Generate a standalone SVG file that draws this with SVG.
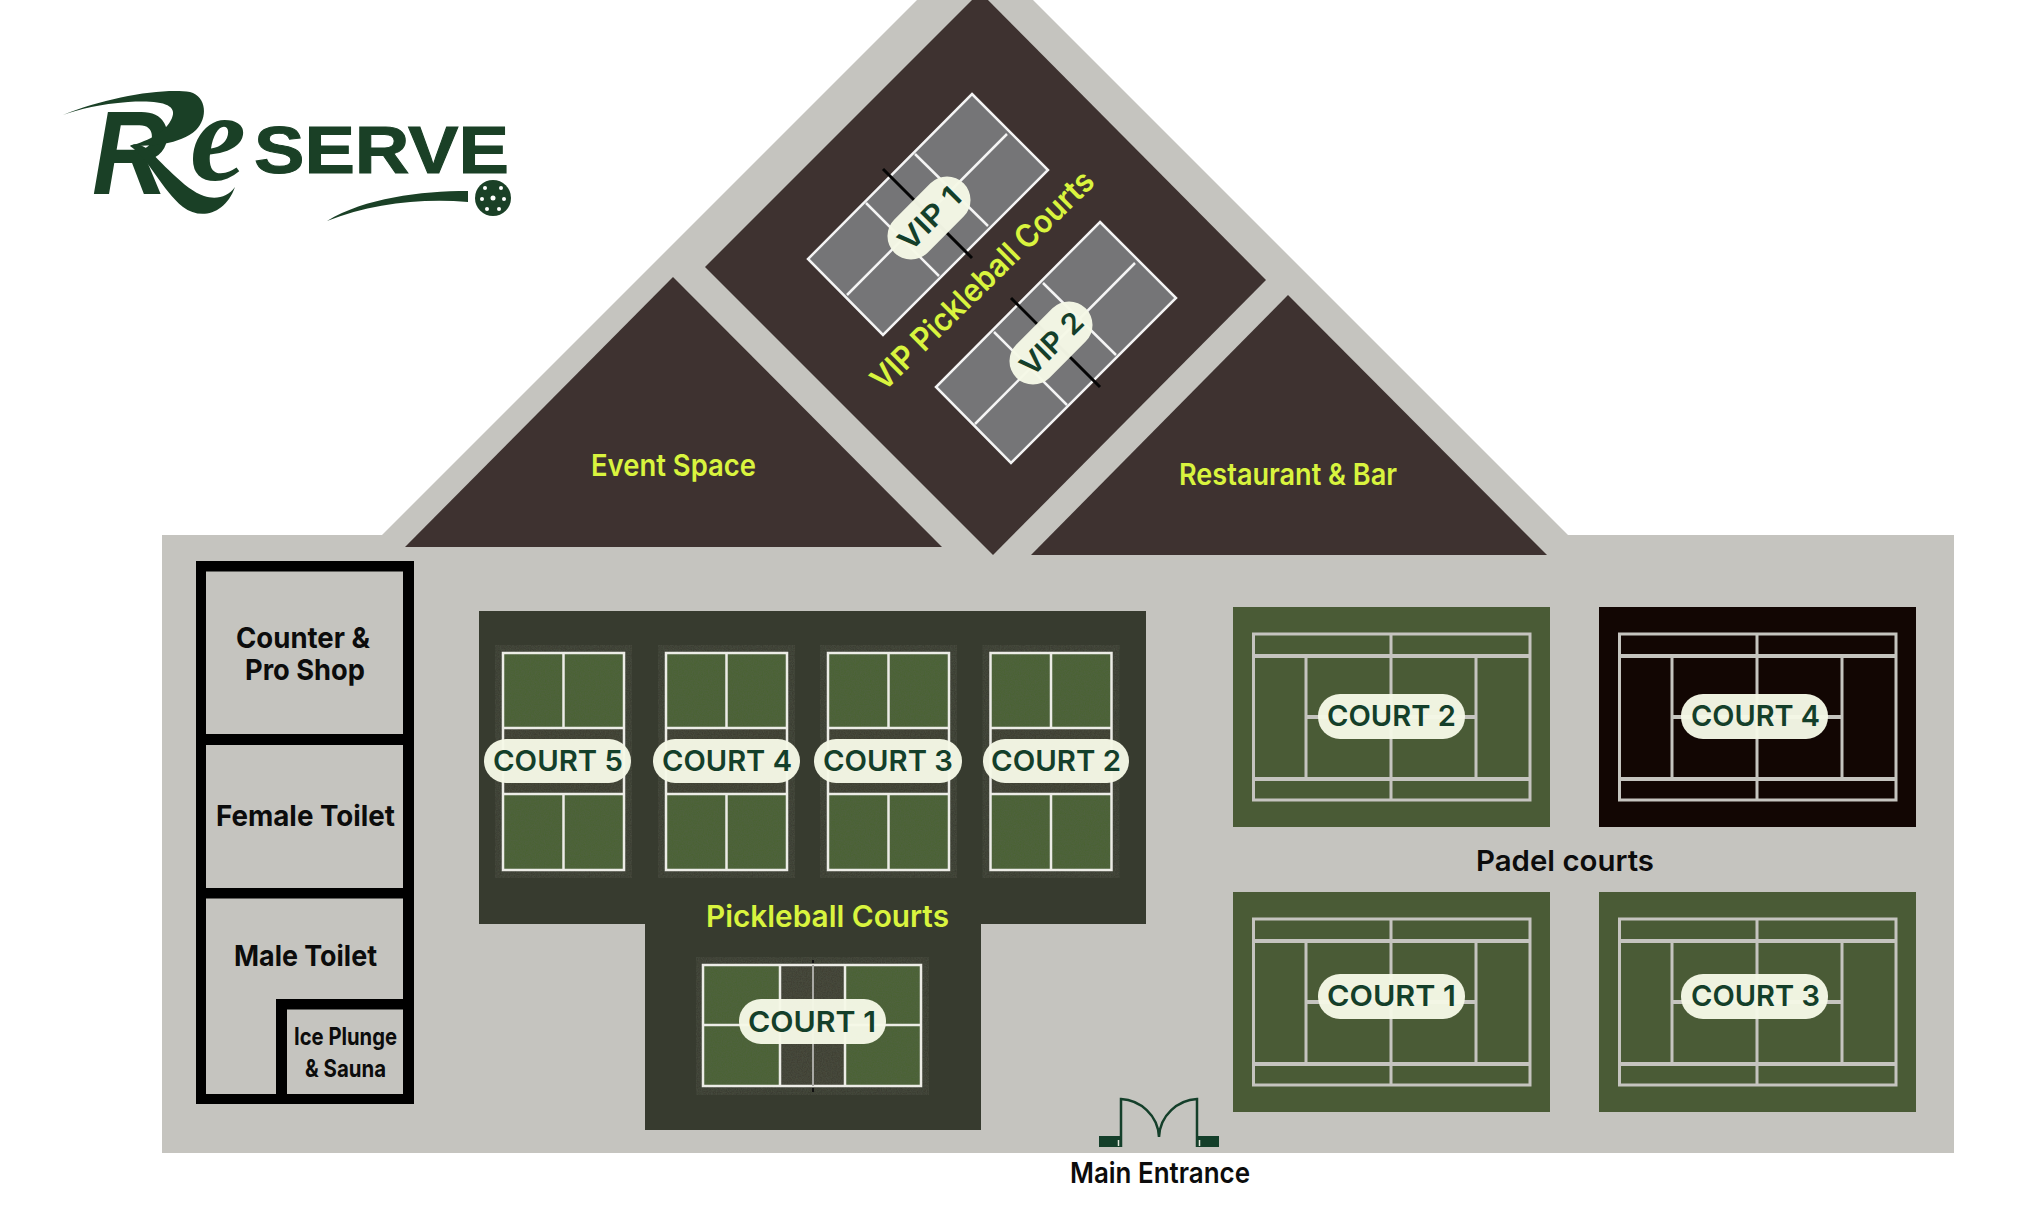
<svg xmlns="http://www.w3.org/2000/svg" width="2038" height="1224" viewBox="0 0 2038 1224">
<style>
text{font-family:"Inter","Liberation Sans",sans-serif;font-weight:700}
.y{fill:#d9f43e;font-size:30px;font-weight:600}
.k{fill:#0c0c0c;font-size:29px}
.ks{fill:#0c0c0c;font-size:24px}
.c{fill:#143f2a;font-size:29px;font-weight:600}
.pill{fill:#f5f8e6;fill-opacity:.97}
.w{stroke:#ecece6;stroke-width:2.500;fill:none}
.p{stroke:#c5c4bf;stroke-width:3;fill:none}
.pt{stroke:#c5c4bf;stroke-width:4;fill:none}
.wall{fill:#000}
.vw{stroke:#f4f4f4;stroke-width:2.500;fill:none}
.net{stroke:#050505;stroke-width:3;fill:none}
.door{stroke:#143f2a;stroke-width:2.500;fill:none}
.logo{fill:#1a4026}
</style>
<defs>
<filter id="grain" x="0" y="0" width="1" height="1">
<feTurbulence type="fractalNoise" baseFrequency="0.8" numOctaves="2" seed="4" result="n"/>
<feColorMatrix in="n" type="matrix" values="0 0 0 0 0.1  0 0 0 0 0.12  0 0 0 0 0.08  0 0 0 0.55 -0.12" result="d"/>
<feComposite in="d" in2="SourceGraphic" operator="atop" result="g"/>
<feMerge><feMergeNode in="SourceGraphic"/><feMergeNode in="g"/></feMerge>
</filter>
<g id="pk">
<rect x="-8" y="-8" width="137" height="233" fill="#3a3c31" filter="url(#grain)"/>
<rect x="0" y="0" width="121" height="217" fill="#4a6233" filter="url(#grain)"/>
<rect x="0" y="75" width="121" height="66" fill="#3d3d30" filter="url(#grain)"/>
<path class="w" d="M0 0H121V217H0ZM0 75H121M0 141H121M60.500 0V75M60.500 141V217"/>
</g>
<g id="pd">
<path class="p" d="M20.500 27H297V193H20.500ZM158 27V193M73 49V172M243 49V172"/>
<path class="pt" d="M20.500 49H297M20.500 172H297M73 110H243"/>
</g>
</defs>
<rect width="2038" height="1224" fill="#fff"/>
<g id="building">
<path fill="#c5c4bf" d="M162 535H382L917 0H1033L1568 535H1954V1153H162Z"/>
</g>
<g id="event-space">
<path fill="#3e3230" d="M673 277L942 547H405Z"/>
<text class="y" x="591" y="476" textLength="165" lengthAdjust="spacingAndGlyphs">Event Space</text>
</g>
<g id="restaurant">
<path fill="#3e3230" d="M1288 295L1547 555H1031Z"/>
<text class="y" x="1179" y="485" textLength="218" lengthAdjust="spacingAndGlyphs">Restaurant &amp; Bar</text>
</g>
<g id="vip-area">
<path fill="#3e3230" d="M980 -8L1266 280L993 555L705 267Z"/>
<text class="y" transform="translate(983 281) rotate(-44.500)" x="-149" y="10" textLength="298" lengthAdjust="spacingAndGlyphs" style="font-size:32px">VIP Pickleball Courts</text>
</g>
<g id="vip-1">
<path class="vw" style="fill:#757577" d="M972 94L1048 170L883 335L808 259Z"/>
<path class="vw" d="M915 154L988 226M866 203L939 276M1007 134L847 295"/>
<path class="net" d="M883 169L972 258"/>
<rect class="pill" x="-49" y="-23.500" width="98" height="47" rx="23.500" transform="translate(929 218) rotate(-45)"/>
<text class="c" transform="translate(929 218) rotate(-45)" x="-38" y="11" textLength="76" lengthAdjust="spacingAndGlyphs">VIP 1</text>
</g>
<g id="vip-2">
<path class="vw" style="fill:#757577" d="M1100 222L1176 298L1011 463L936 387Z"/>
<path class="vw" d="M1043 283L1116 355M994 332L1067 405M1135 263L975 424"/>
<path class="net" d="M1011 298L1100 387"/>
<rect class="pill" x="-49" y="-23.500" width="98" height="47" rx="23.500" transform="translate(1051 343) rotate(-45)"/>
<text class="c" transform="translate(1051 343) rotate(-45)" x="-38" y="11" textLength="76" lengthAdjust="spacingAndGlyphs">VIP 2</text>
</g>
<g id="pickleball-area">
<path fill="#373b2f" d="M479 611H1146V924H981V1130H645V924H479Z"/>
<text class="y" x="706" y="927" textLength="243" lengthAdjust="spacingAndGlyphs">Pickleball Courts</text>
</g>
<g id="pb-court-5">
<use href="#pk" x="503" y="653"/>
<rect class="pill" x="484" y="739" width="147" height="44" rx="22"/>
<text class="c" x="493" y="771" textLength="130" lengthAdjust="spacingAndGlyphs">COURT 5</text>
</g>
<g id="pb-court-4">
<use href="#pk" x="666" y="653"/>
<rect class="pill" x="653" y="739" width="147" height="44" rx="22"/>
<text class="c" x="662" y="771" textLength="130" lengthAdjust="spacingAndGlyphs">COURT 4</text>
</g>
<g id="pb-court-3">
<use href="#pk" x="828" y="653"/>
<rect class="pill" x="814" y="739" width="148" height="44" rx="22"/>
<text class="c" x="823" y="771" textLength="130" lengthAdjust="spacingAndGlyphs">COURT 3</text>
</g>
<g id="pb-court-2">
<use href="#pk" x="990.500" y="653"/>
<rect class="pill" x="983" y="739" width="146" height="44" rx="22"/>
<text class="c" x="991" y="771" textLength="130" lengthAdjust="spacingAndGlyphs">COURT 2</text>
</g>
<g id="pb-court-1">
<rect x="696" y="957" width="233" height="138" fill="#3a3c31" filter="url(#grain)"/>
<rect x="703" y="965" width="218" height="121" fill="#4a6233" filter="url(#grain)"/>
<rect x="780" y="965" width="65" height="121" fill="#3f3f33" filter="url(#grain)"/>
<path class="w" d="M703 965H921V1086H703ZM780 965V1086M845 965V1086M703 1025H780M845 1025H921"/>
<path stroke="#a9a9a4" stroke-width="2" fill="none" d="M813 965V1086"/>
<path stroke="#111" stroke-width="2" fill="none" d="M813 960V963M813 1088V1092"/>
<rect class="pill" x="739" y="999" width="147" height="45" rx="22"/>
<text class="c" x="748" y="1032" textLength="128" lengthAdjust="spacingAndGlyphs">COURT 1</text>
</g>
<g id="padel-court-2">
<rect x="1233" y="607" width="317" height="220" fill="#4a5b36"/>
<use href="#pd" x="1233" y="607"/>
<rect class="pill" x="1318" y="694" width="147" height="45" rx="22"/>
<text class="c" x="1327" y="726" textLength="129" lengthAdjust="spacingAndGlyphs">COURT 2</text>
</g>
<g id="padel-court-4">
<rect x="1599" y="607" width="317" height="220" fill="#120603"/>
<use href="#pd" x="1599" y="607"/>
<rect class="pill" x="1681" y="694" width="147" height="45" rx="22"/>
<text class="c" x="1691" y="726" textLength="129" lengthAdjust="spacingAndGlyphs">COURT 4</text>
</g>
<g id="padel-court-1">
<rect x="1233" y="892" width="317" height="220" fill="#4a5b36"/>
<use href="#pd" x="1233" y="892"/>
<rect class="pill" x="1318" y="974" width="147" height="45" rx="22"/>
<text class="c" x="1327" y="1006" textLength="129" lengthAdjust="spacingAndGlyphs">COURT 1</text>
</g>
<g id="padel-court-3">
<rect x="1599" y="892" width="317" height="220" fill="#4a5b36"/>
<use href="#pd" x="1599" y="892"/>
<rect class="pill" x="1681" y="974" width="147" height="45" rx="22"/>
<text class="c" x="1691" y="1006" textLength="129" lengthAdjust="spacingAndGlyphs">COURT 3</text>
</g>
<g id="padel-label">
<text class="k" x="1476" y="871" textLength="178" lengthAdjust="spacingAndGlyphs" style="font-weight:600">Padel courts</text>
</g>
<g id="rooms">
<path class="wall" fill-rule="evenodd" d="M196 561H414V1104H196ZM206 571.500V734H403V571.500ZM206 745V888H403V745ZM206 898.500V1094H276V999H403V898.500ZM287 1009.500V1094H403V1009.500Z"/>
</g>
<g id="counter">
<text class="k" x="236" y="648" textLength="134" lengthAdjust="spacingAndGlyphs">Counter &amp;</text>
<text class="k" x="245" y="680" textLength="120" lengthAdjust="spacingAndGlyphs">Pro Shop</text>
</g>
<g id="female-toilet"><text class="k" x="216" y="826" textLength="179" lengthAdjust="spacingAndGlyphs">Female Toilet</text></g>
<g id="male-toilet"><text class="k" x="234" y="966" textLength="143" lengthAdjust="spacingAndGlyphs">Male Toilet</text></g>
<g id="ice-plunge">
<text class="ks" x="294" y="1045" textLength="103" lengthAdjust="spacingAndGlyphs">Ice Plunge</text>
<text class="ks" x="305" y="1077" textLength="81" lengthAdjust="spacingAndGlyphs">&amp; Sauna</text>
</g>
<g id="entrance">
<rect x="1099" y="1136" width="23" height="11" fill="#143f2a"/>
<rect x="1196" y="1136" width="23" height="11" fill="#143f2a"/>
<path class="door" d="M1121 1147V1099C1140 1100 1158 1115 1159 1137C1160 1115 1178 1100 1197 1099V1147"/>
<path stroke="#dfe5da" stroke-width="1.500" d="M1118.500 1140V1146M1199.500 1140V1146"/>
<text class="k" x="1070" y="1183" textLength="180" lengthAdjust="spacingAndGlyphs" style="font-weight:600">Main Entrance</text>
</g>
<g id="logo">
<text x="92" y="194" style="font-family:'Liberation Sans',sans-serif;font-weight:700;font-style:italic;font-size:118px" class="logo" textLength="76" lengthAdjust="spacingAndGlyphs">R</text>
<text x="190" y="180" style="font-family:'Liberation Serif',serif;font-weight:700;font-style:italic;font-size:126px" class="logo">e</text>
<text x="254" y="173" style="font-family:'Liberation Sans',sans-serif;font-weight:700;font-size:67px;stroke:#1a4026;stroke-width:1" class="logo" textLength="255" lengthAdjust="spacingAndGlyphs">SERVE</text>
<path class="logo" d="M63 115C105 98 160 88 190 92C207 97 208 118 196 130C180 145 150 146 130 146C150 140 166 132 172 118C178 104 160 100 128 102C100 104 80 109 63 115Z"/>
<path class="logo" d="M130 146C150 160 162 190 183 207C200 220 225 215 235 187C228 197 216 200 204 196C185 190 160 160 146 148C140 144 134 143 130 146Z"/>
<path class="logo" d="M327 221C365 198 420 191 468 191V202C420 198 370 204 327 221Z"/>
<circle class="logo" cx="493" cy="198" r="18"/>
<g fill="#fff"><circle cx="493" cy="198" r="2.500"/><circle cx="485" cy="188" r="2"/><circle cx="501" cy="188" r="2"/><circle cx="482" cy="199" r="2"/><circle cx="504" cy="199" r="2"/><circle cx="487" cy="209" r="2"/><circle cx="499" cy="209" r="2"/></g>
</g>
</svg>
